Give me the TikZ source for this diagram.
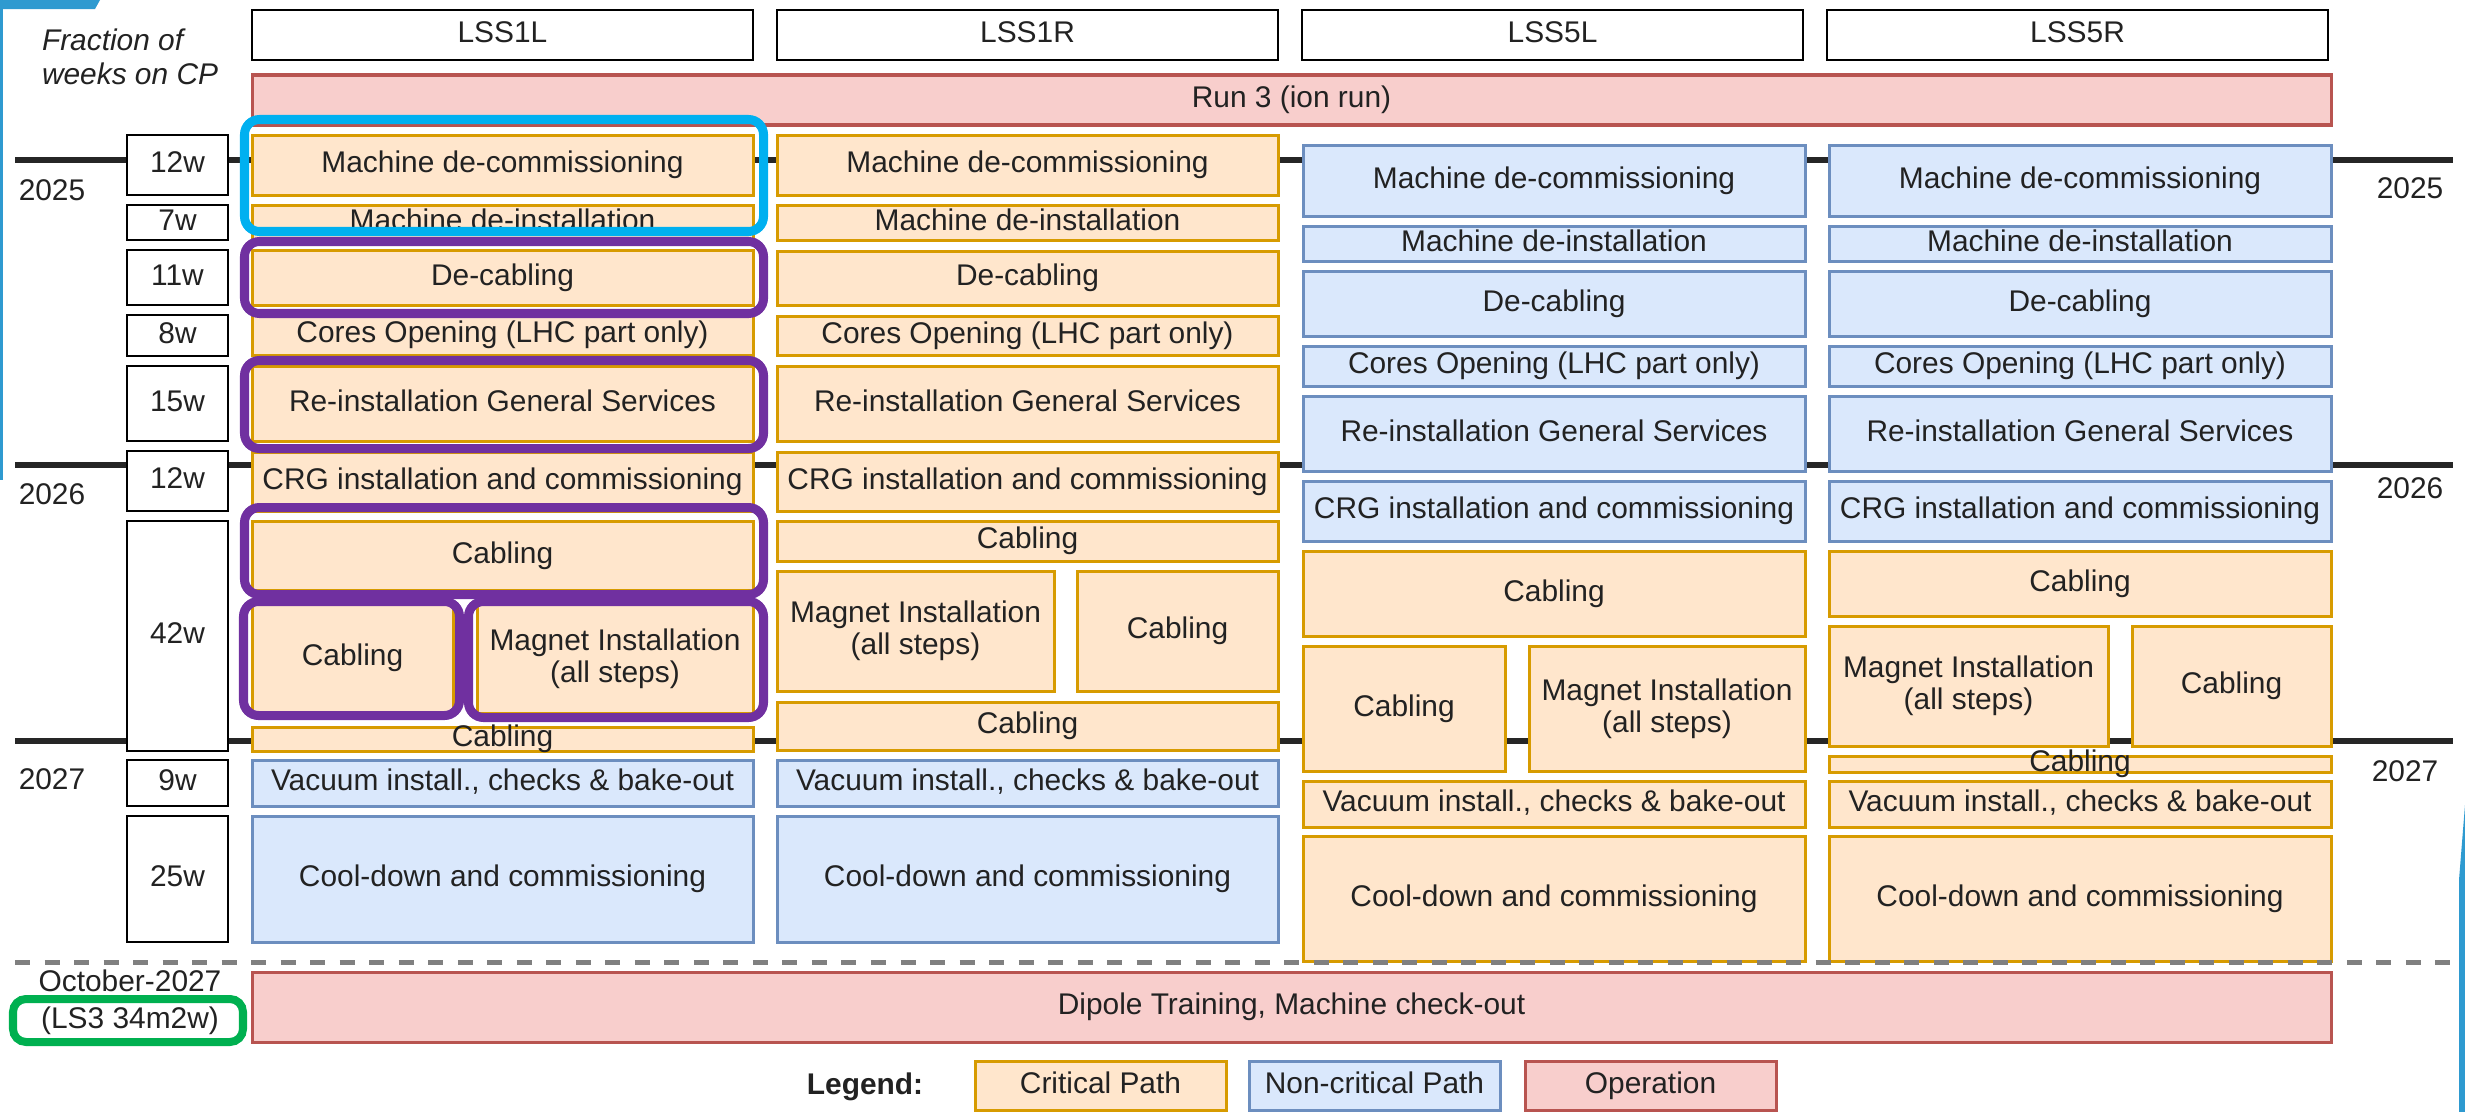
\documentclass[tikz,border=0pt]{standalone}
\usepackage{fontspec}
\setmainfont{Liberation Sans}
\usepackage{xcolor}
\usetikzlibrary{positioning}

\definecolor{critfill}{HTML}{FFE6CC}
\definecolor{critline}{HTML}{D79B00}
\definecolor{ncfill}{HTML}{DAE8FC}
\definecolor{ncline}{HTML}{6C8EBF}
\definecolor{opfill}{HTML}{F8CECC}
\definecolor{opline}{HTML}{B85450}
\definecolor{hlcyan}{HTML}{00B0F0}
\definecolor{hlpurple}{HTML}{7030A0}
\definecolor{hlgreen}{HTML}{00B050}
\definecolor{slideblue}{HTML}{2E9AD0}
\definecolor{txt}{HTML}{222222}

\tikzset{
crit/.style={fill=critfill, draw=critline, line width=0.03cm},
noncrit/.style={fill=ncfill, draw=ncline, line width=0.03cm},
oper/.style={fill=opfill, draw=opline, line width=0.03cm},
plain/.style={fill=white, draw=black, line width=0.025cm},
lbl/.style={inner sep=0pt, outer sep=0pt, text=txt, align=center, font=\fontsize{8.5}{9.1}\selectfont},
one/.style={text height=6.1pt, text depth=1.8pt},
two/.style={},
yearline/.style={line width=0.065cm, black!85},
cutline/.style={line width=0.05cm, gray, dash pattern=on 0.15cm off 0.145cm},
ringcyan/.style={draw=hlcyan, line width=0.09cm, rounded corners=0.15cm},
ringpurple/.style={draw=hlpurple, line width=0.09cm, rounded corners=0.15cm},
ringgreen/.style={draw=hlgreen, line width=0.08cm, rounded corners=0.13cm}
}
% [label style]{name}{box style}{x1}{y1}{x2}{y2}{text}
\newcommand{\job}[8][one]{%
  \draw[#3] ({#4},{#5}) rectangle ({#6},{#7});
  \node[lbl,#1] (#2) at ({(#4+#6)/2},{(#5+#7)/2}) {#8};}

\begin{document}
\begin{tikzpicture}[x=0.01cm, y=-0.01cm]
\useasboundingbox (0,0) rectangle (2465,1112);

% slide edges
\fill[slideblue] (0,0) -- (100,0) -- (95,9) -- (0,9) -- cycle;
\fill[slideblue] (0,0) rectangle (3,480);
\fill[slideblue] (2465,805) -- (2459,880) -- (2459,1112) -- (2465,1112) -- cycle;

% years
\foreach \yy in {160,465,741}
  \draw[yearline] (15,\yy) -- (2453,\yy);
\node[lbl,one] (y25l) at (52,193) {2025};
\node[lbl,one] (y26l) at (52,497) {2026};
\node[lbl,one] (y27l) at (52,782) {2027};
\node[lbl,one] (y25r) at (2410,191) {2025};
\node[lbl,one] (y26r) at (2410,491) {2026};
\node[lbl,one] (y27r) at (2405,774) {2027};

\node[lbl, anchor=west, align=left, font=\fontsize{8.5}{9.7}\selectfont\itshape] (frac) at (42,57) {Fraction of\\weeks on CP};

\foreach \c/\n [count=\i] in {252/LSS1L, 777/LSS1R, 1302/LSS5L, 1827/LSS5R}
  {\job{hd\i}{plain}{\c}{10}{\c+501}{60}{\n}}
\job{run}{oper}{252}{75}{2331}{125}{Run 3 (ion run)}

% weeks on CP
\job{wk1}{plain}{127}{135}{228}{195}{12w}
\job{wk2}{plain}{127}{205}{228}{240}{7w}
\job{wk3}{plain}{127}{250}{228}{305}{11w}
\job{wk4}{plain}{127}{315}{228}{356}{8w}
\job{wk5}{plain}{127}{366}{228}{441}{15w}
\job{wk6}{plain}{127}{451}{228}{511}{12w}
\job{wk7}{plain}{127}{521}{228}{751}{42w}
\job{wk8}{plain}{127}{760}{228}{806}{9w}
\job{wk9}{plain}{127}{816}{228}{942}{25w}

% LSS1L
\job{a1}{crit}{252}{135}{753}{195}{Machine de-commissioning}
\job{a2}{crit}{252}{205}{753}{240}{Machine de-installation}
\job{a3}{crit}{252}{250}{753}{305}{De-cabling}
\job{a4}{crit}{252}{315}{753}{355}{Cores Opening (LHC part only)}
\job{a5}{crit}{252}{366}{753}{441}{Re-installation General Services}
\job{a6}{crit}{252}{452}{753}{511}{CRG installation and commissioning}
\job{a7}{crit}{252}{521}{753}{590}{Cabling}
\job{a8}{crit}{252}{604}{453}{712}{Cabling}
\job[two]{a9}{crit}{477}{604}{753}{713}{Magnet Installation\\(all steps)}
\job{a10}{crit}{252}{727}{753}{751}{Cabling}
\job{a11}{noncrit}{252}{760}{753}{806}{Vacuum install., checks \& bake-out}
\job{a12}{noncrit}{252}{816}{753}{942}{Cool-down and commissioning}

% LSS1R
\job{b1}{crit}{777}{135}{1278}{195}{Machine de-commissioning}
\job{b2}{crit}{777}{205}{1278}{240}{Machine de-installation}
\job{b3}{crit}{777}{251}{1278}{305}{De-cabling}
\job{b4}{crit}{777}{316}{1278}{355}{Cores Opening (LHC part only)}
\job{b5}{crit}{777}{366}{1278}{441}{Re-installation General Services}
\job{b6}{crit}{777}{452}{1278}{511}{CRG installation and commissioning}
\job{b7}{crit}{777}{521}{1278}{561}{Cabling}
\job[two]{b8}{crit}{777}{571}{1054}{691}{Magnet Installation\\(all steps)}
\job{b9}{crit}{1077}{571}{1278}{691}{Cabling}
\job{b10}{crit}{777}{702}{1278}{750}{Cabling}
\job{b11}{noncrit}{777}{760}{1278}{806}{Vacuum install., checks \& bake-out}
\job{b12}{noncrit}{777}{816}{1278}{942}{Cool-down and commissioning}

% LSS5L
\job{c1}{noncrit}{1303}{145}{1805}{216}{Machine de-commissioning}
\job{c2}{noncrit}{1303}{226}{1805}{261}{Machine de-installation}
\job{c3}{noncrit}{1303}{271}{1805}{336}{De-cabling}
\job{c4}{noncrit}{1303}{346}{1805}{386}{Cores Opening (LHC part only)}
\job{c5}{noncrit}{1303}{396}{1805}{471}{Re-installation General Services}
\job{c6}{noncrit}{1303}{481}{1805}{541}{CRG installation and commissioning}
\job{c7}{crit}{1303}{551}{1805}{636}{Cabling}
\job{c8}{crit}{1303}{646}{1505}{771}{Cabling}
\job[two]{c9}{crit}{1529}{646}{1805}{771}{Magnet Installation\\(all steps)}
\job{c10}{crit}{1303}{781}{1805}{827}{Vacuum install., checks \& bake-out}
\job{c11}{crit}{1303}{836}{1805}{961}{Cool-down and commissioning}

% LSS5R
\job{d1}{noncrit}{1829}{145}{2331}{216}{Machine de-commissioning}
\job{d2}{noncrit}{1829}{226}{2331}{261}{Machine de-installation}
\job{d3}{noncrit}{1829}{271}{2331}{336}{De-cabling}
\job{d4}{noncrit}{1829}{346}{2331}{386}{Cores Opening (LHC part only)}
\job{d5}{noncrit}{1829}{396}{2331}{471}{Re-installation General Services}
\job{d6}{noncrit}{1829}{481}{2331}{541}{CRG installation and commissioning}
\job{d7}{crit}{1829}{551}{2331}{616}{Cabling}
\job[two]{d8}{crit}{1829}{626}{2108}{746}{Magnet Installation\\(all steps)}
\job{d9}{crit}{2132}{626}{2331}{746}{Cabling}
\job{d10}{crit}{1829}{756}{2331}{772}{Cabling}
\job{d11}{crit}{1829}{781}{2331}{827}{Vacuum install., checks \& bake-out}
\job{d12}{crit}{1829}{836}{2331}{961}{Cool-down and commissioning}

% highlights on LSS1L
\draw[ringcyan] (244.5,119.5) rectangle (763.5,231.5);
\draw[ringpurple] (244.5,241.5) rectangle (763.5,313.5);
\draw[ringpurple] (244.5,360.5) rectangle (763.5,448.5);
\draw[ringpurple] (244.5,507.5) rectangle (763.5,594.5);
\draw[ringpurple] (243.5,601.5) rectangle (459.5,715.5);
\draw[ringpurple] (468.5,601.5) rectangle (763.5,717.5);

\draw[cutline] (15,962) -- (2455,962);
\job{dip}{oper}{252}{972}{2331}{1042}{Dipole Training, Machine check-out}

\node[lbl,one] (oct) at (130,984) {October-2027};
\node[lbl,one,below=0.09cm of oct] (ls3) {(LS3 34m2w)};
\draw[ringgreen] (13,999) rectangle (243,1042);

% legend
\node[lbl,one,font=\fontsize{8.5}{9.1}\selectfont\bfseries] (leg) at (865,1087) {Legend:};
\job{lg1}{crit}{975}{1061}{1226}{1110}{Critical Path}
\job{lg2}{noncrit}{1249}{1061}{1500}{1110}{Non-critical Path}
\job{lg3}{oper}{1525}{1061}{1776}{1110}{Operation}
\end{tikzpicture}
\end{document}
